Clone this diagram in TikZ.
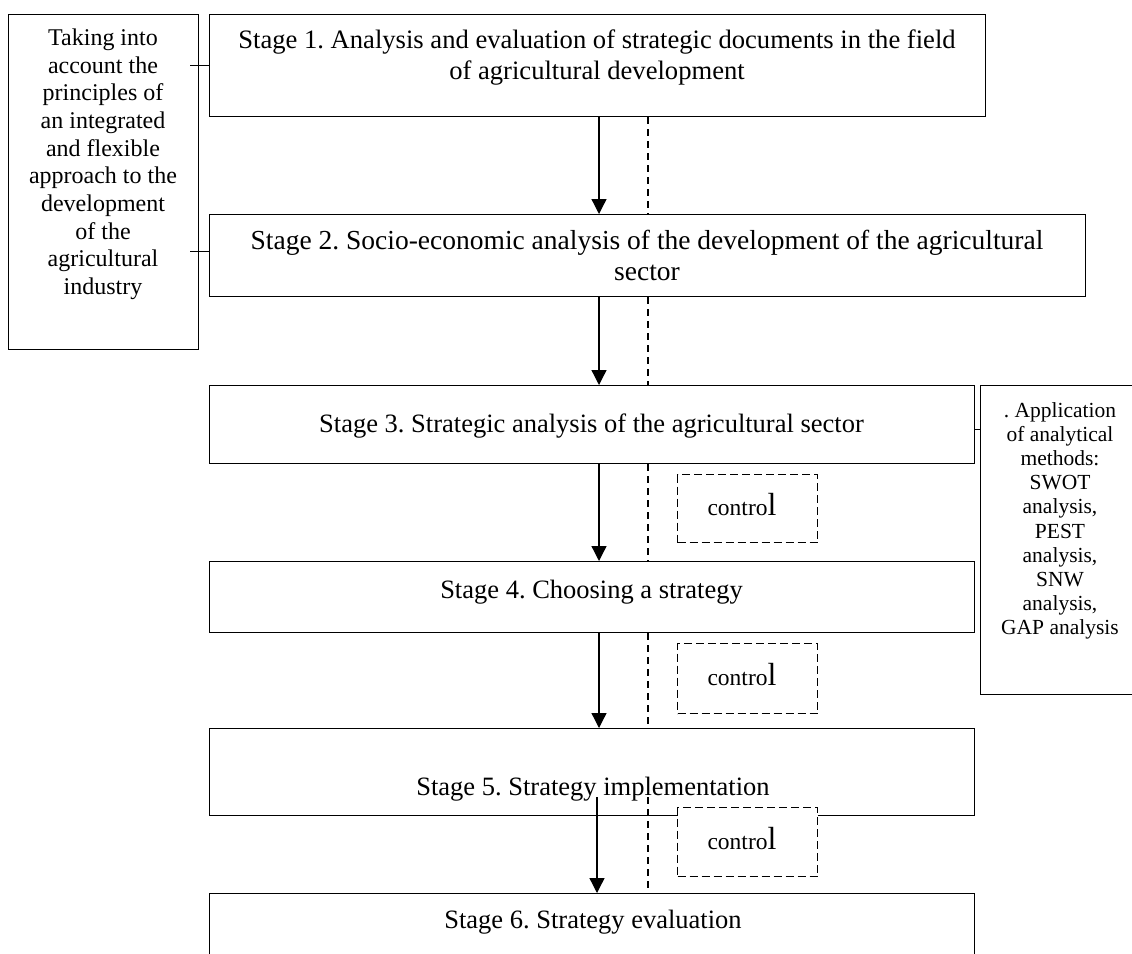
\documentclass[tikz,border=0pt]{standalone}
\usepackage{fontspec}
\setmainfont{Liberation Serif}
\usetikzlibrary{arrows.meta}
\begin{document}
\frenchspacing
\begin{tikzpicture}[x=1pt,y=-1pt,
  box/.style={draw, line width=1.3pt, inner sep=0pt, anchor=north west},
  ctrlbox/.style={draw, fill=white, line width=1.3pt, dash pattern=on 8pt off 4pt, inner sep=0pt, anchor=north west},
  stxt/.style={font=\fontsize{26.5}{31}\selectfont, align=center, inner sep=0pt},
  sidetxt/.style={font=\fontsize{24}{27.7}\selectfont, align=center, inner sep=0pt},
  rtxt/.style={font=\fontsize{21.5}{24.2}\selectfont, align=center, inner sep=0pt},
  ctxt/.style={font=\fontsize{23.5}{28}\selectfont, inner sep=0pt},
  arr/.style={-{Triangle[length=15pt,width=15pt]}, line width=1.3pt},
  dline/.style={line width=1.3pt, dash pattern=on 7pt off 5pt},
  conn/.style={line width=1.3pt}
]
\useasboundingbox (0,0) rectangle (1132,953);
\clip (0,0) rectangle (1132,953);
% boxes
\node[box, minimum width=190pt, minimum height=335pt] (lb) at (8,14) {};
\node[box, minimum width=776pt, minimum height=102pt] (s1) at (209,14) {};
\node[box, minimum width=876pt, minimum height=82pt] (s2) at (209,214) {};
\node[box, minimum width=765pt, minimum height=78pt] (s3) at (209,385) {};
\node[box, minimum width=165pt, minimum height=309pt] (rb) at (980,385) {};
\node[box, minimum width=765pt, minimum height=71pt] (s4) at (209,561) {};
\node[box, minimum width=765pt, minimum height=87pt] (s5) at (209,728) {};
\node[box, minimum width=765pt, minimum height=120pt] (s6) at (209,893) {};
% texts
\node[stxt, font=\fontsize{26.6}{31}\selectfont, anchor=base] (t1a) at (597,48) {Stage 1. Analysis and evaluation of strategic documents in the field};
\node[stxt, font=\fontsize{26.6}{31}\selectfont, anchor=base] (t1b) at (597,79) {of agricultural development};
\node[stxt, font=\fontsize{27.5}{31}\selectfont, anchor=base] (t2a) at (647,249) {Stage 2. Socio-economic analysis of the development of the agricultural};
\node[stxt, font=\fontsize{27.5}{31}\selectfont, anchor=base] (t2b) at (647,280) {sector};
\node[stxt, anchor=base] (t3) at (591.5,432) {Stage 3. Strategic analysis of the agricultural sector};
\node[stxt, anchor=base] (t4) at (591.5,598) {Stage 4. Choosing a strategy};
\node[stxt, anchor=base] (t5) at (593,795) {Stage 5. Strategy implementation};
\node[stxt, anchor=base] (t6) at (593,928) {Stage 6. Strategy evaluation};
\node[sidetxt, anchor=north] (lt) at (103,28.5) {Taking into\\account the\\principles of\\an integrated\\and flexible\\approach to the\\development\\of the\\agricultural\\industry};
\node[rtxt, anchor=north] (rt) at (1060,402) {.\ Application\\of analytical\\methods:\\SWOT\\analysis,\\PEST\\analysis,\\SNW\\analysis,\\GAP analysis};
% side connectors
\draw[conn] (s1.west) -- ([xshift=-9pt]s1.west -| lb.east);
\draw[conn] ([yshift=4pt]s2.west) -- ([xshift=-9pt,yshift=4pt]s2.west -| lb.east);
\draw[conn] ([yshift=-5pt]s3.east) -- ([yshift=-5pt]s3.east -| rb.west);
% arrow and dashed coordinates
\coordinate (ax) at (599,0);
\coordinate (dx) at (648,0);
\coordinate (a5) at (597,797);
\coordinate (d5) at (648,797);
\draw[arr] (s1.south -| ax) -- (s2.north -| ax);
\draw[arr] (s2.south -| ax) -- (s3.north -| ax);
\draw[arr] (s3.south -| ax) -- (s4.north -| ax);
\draw[arr] (s4.south -| ax) -- (s5.north -| ax);
\draw[arr] (a5) -- (s6.north -| a5);
\draw[dline] (s1.south -| dx) -- (s2.north -| dx);
\draw[dline] (s2.south -| dx) -- (s3.north -| dx);
\draw[dline] (s3.south -| dx) -- (s4.north -| dx);
\draw[dline] (s4.south -| dx) -- (s5.north -| dx);
\draw[dline] (d5) -- (s6.north -| d5);
% control boxes
\node[ctrlbox, minimum width=140pt, minimum height=68pt] (c1) at (677,474) {};
\node[ctrlbox, minimum width=140pt, minimum height=70pt] (c2) at (677,643) {};
\node[ctrlbox, minimum width=140pt, minimum height=69pt] (c3) at (677,807) {};
\node[ctxt, anchor=base] (ct1) at (742,515) {contro{\fontsize{32}{32}\selectfont l}};
\node[ctxt, anchor=base] (ct2) at (742,685) {contro{\fontsize{32}{32}\selectfont l}};
\node[ctxt, anchor=base] (ct3) at (742,849) {contro{\fontsize{32}{32}\selectfont l}};
\end{tikzpicture}
\end{document}
